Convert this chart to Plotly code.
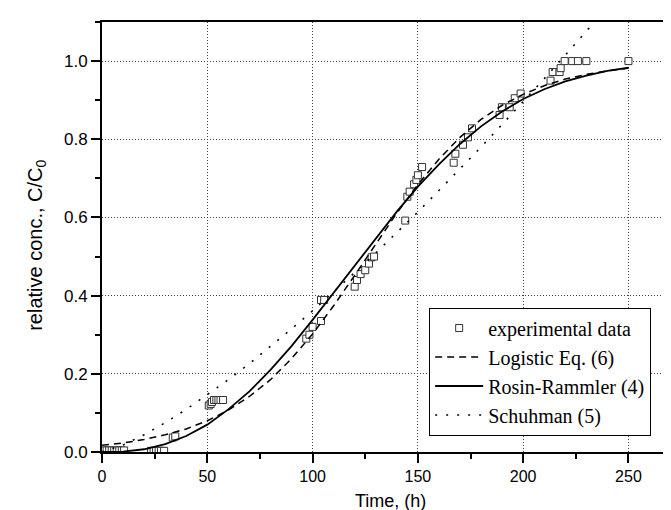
import plotly.graph_objects as go

exp_t = [1, 2.2, 3.4, 4.6, 5.8, 7, 8.2, 9.4, 10.5,
         23.3, 24.5, 25.7, 26.9, 28, 29.5,
         33.6, 34.8,
         50.7, 51.6, 52.2, 53.2, 54.3, 55.3, 56.3, 57.5,
         97, 98.5, 100, 104, 104, 105.5,
         120, 121.1, 122.8, 125, 126.8, 128, 129.2,
         144, 145, 146.1, 148.2, 149.3, 150, 152,
         167, 167.8, 171.4, 173.8, 175.7,
         188.8, 189.9, 193.6, 196, 198.8,
         213, 214, 217.3, 217.8, 219.7, 223.3, 226, 230, 250]
exp_c = [0.004, 0.004, 0.004, 0.004, 0.004, 0.004, 0.004, 0.004, 0.004,
         0.003, 0.003, 0.003, 0.003, 0.003, 0.003,
         0.037, 0.040,
         0.119, 0.123, 0.128, 0.133, 0.133, 0.133, 0.133, 0.133,
         0.29, 0.30, 0.32, 0.335, 0.389, 0.389,
         0.423, 0.44, 0.455, 0.465, 0.482, 0.498, 0.50,
         0.592, 0.653, 0.666, 0.685, 0.696, 0.708, 0.729,
         0.740, 0.763, 0.786, 0.805, 0.828,
         0.862, 0.882, 0.882, 0.905, 0.917,
         0.95, 0.972, 0.972, 0.982, 1.0, 1.0, 1.0, 1.0, 1.0]

# model curves
curve_t = [0, 10, 20, 30, 40, 50, 60, 70, 80, 90, 100, 110, 120, 130,
           140, 150, 160, 170, 180, 190, 200, 210, 220, 230, 240, 250]
logistic_c = [0.017, 0.023, 0.032, 0.044, 0.059, 0.080, 0.107, 0.142, 0.185,
              0.239, 0.302, 0.374, 0.452, 0.532, 0.611, 0.684, 0.749, 0.805,
              0.851, 0.887, 0.915, 0.937, 0.954, 0.966, 0.975, 0.982]
rosin_c = [0.0, 0.001, 0.007, 0.020, 0.041, 0.070, 0.109, 0.155, 0.210, 0.271,
           0.338, 0.407, 0.478, 0.548, 0.615, 0.679, 0.736, 0.788, 0.833,
           0.871, 0.903, 0.928, 0.948, 0.963, 0.975, 0.983]
schuh_t = [0, 10, 20, 30, 40, 50, 60, 70, 80, 90, 100, 110, 120, 130,
           140, 150, 160, 170, 180, 190, 200, 210, 220, 230, 240]
schuh_c = [0.0, 0.018, 0.044, 0.075, 0.109, 0.146, 0.185, 0.226, 0.270, 0.315,
           0.361, 0.409, 0.459, 0.509, 0.561, 0.614, 0.669, 0.724, 0.780,
           0.838, 0.896, 0.955, 1.015, 1.076, 1.138]

x_ticks = [0, 50, 100, 150, 200, 250]
y_ticks = [0.0, 0.2, 0.4, 0.6, 0.8, 1.0]
x_title = "Time, (h)"
y_title = "relative conc., C/C<sub>0</sub>"

fig = go.Figure()
fig.add_trace(go.Scatter(
    x=exp_t, y=exp_c, mode="markers", name="experimental data",
    marker=dict(symbol="square", size=7, color="white",
                line=dict(color="#333333", width=1))))
fig.add_trace(go.Scatter(
    x=curve_t, y=logistic_c, mode="lines", name="Logistic Eq. (6)",
    line=dict(color="black", width=1.5, dash="7px,5px")))
fig.add_trace(go.Scatter(
    x=curve_t, y=rosin_c, mode="lines", name="Rosin-Rammler (4)",
    line=dict(color="black", width=1.8)))
fig.add_trace(go.Scatter(
    x=schuh_t, y=schuh_c, mode="lines", name="Schuhman (5)",
    line=dict(color="black", width=1.6, dash="2px,9px")))

sans = "Liberation Sans, Arial"
axis_font = dict(family=sans, size=16, color="black")

fig.update_layout(
    width=671, height=510,
    margin=dict(l=94, r=0, t=14, b=66),
    paper_bgcolor="white", plot_bgcolor="white",
    showlegend=True,
    legend=dict(x=0.567, y=0.336, xanchor="left", yanchor="top",
                bgcolor="white", bordercolor="black", borderwidth=1,
                itemwidth=48,
                font=dict(family="Liberation Serif, Times New Roman", size=20,
                          color="black"),
                tracegroupgap=0),
    xaxis=dict(range=[0, 274], tickvals=x_ticks, ticktext=[str(v) for v in x_ticks],
               showline=True, linecolor="black", linewidth=2, mirror=True,
               ticks="outside", ticklen=9, tickwidth=1.5, tickcolor="black",
               ticklabelstandoff=0,
               minor=dict(dtick=25, ticks="outside", ticklen=5, tickwidth=1.5,
                          tickcolor="black", showgrid=False),
               showgrid=True, gridcolor="#444444", gridwidth=1, griddash="1px,2px",
               zeroline=False, tickfont=axis_font),
    yaxis=dict(range=[0, 1.1], tickvals=y_ticks, ticktext=["%.1f" % v for v in y_ticks],
               showline=True, linecolor="black", linewidth=2, mirror=False,
               ticks="outside", ticklen=9, tickwidth=1.5, tickcolor="black",
               minor=dict(dtick=0.1, tick0=0, ticks="outside", ticklen=5, tickwidth=1.5,
                          tickcolor="black", showgrid=False),
               showgrid=True, gridcolor="#444444", gridwidth=1, griddash="1px,2px",
               zeroline=False, tickfont=dict(family=sans, size=17, color="black")),
    annotations=[
        dict(text=x_title, xref="paper", yref="paper", x=0.5, y=-0.113,
             xanchor="center", yanchor="middle", showarrow=False,
             font=dict(family=sans, size=18, color="black")),
        dict(text=y_title, xref="paper", yref="paper", x=-0.114, y=0.48,
             xanchor="center", yanchor="middle", showarrow=False, textangle=-90,
             font=dict(family=sans, size=20, color="black")),
    ],
)

fig.write_html("out.html")
